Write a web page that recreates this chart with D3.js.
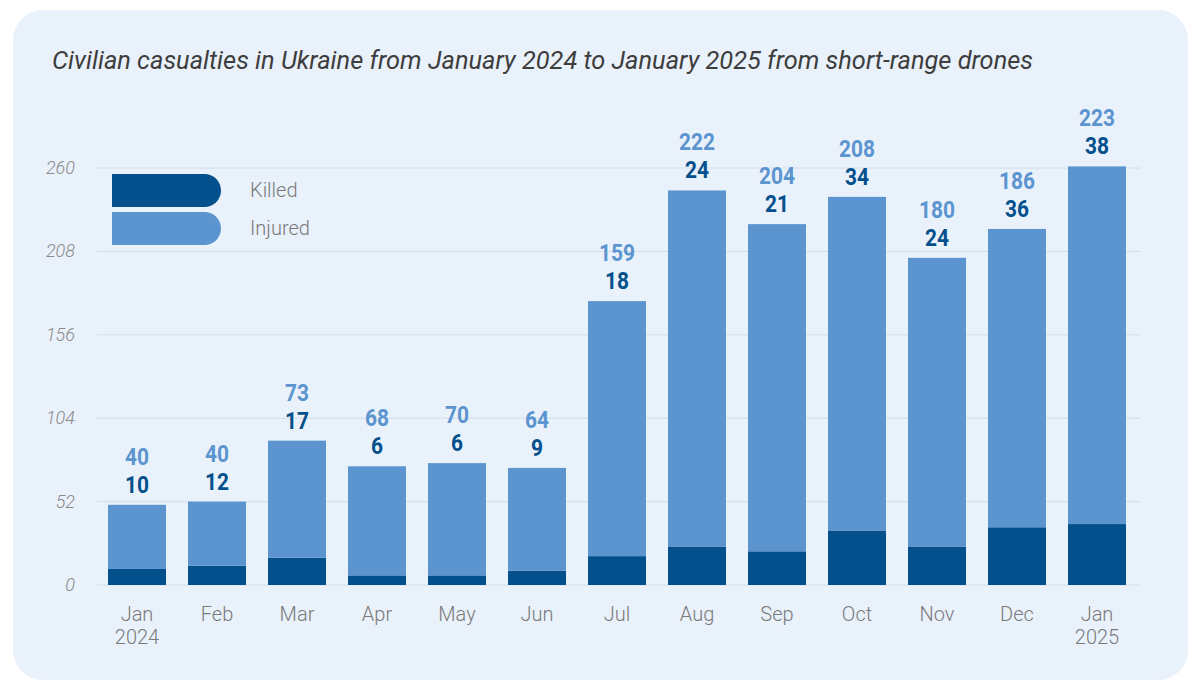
<html><head>
<meta charset="UTF-8">
<title>Civilian casualties from short-range drones</title>
<style>
  body { margin: 0; padding: 0; background: #ffffff; overflow: hidden; }
  svg { display: block; }
  .title { font-family: Roboto, sans-serif; font-style: italic; }
  .tick-y { font-family: Roboto, sans-serif; font-style: italic; font-weight: 300; }
  .lbl { font-family: Roboto, sans-serif; font-weight: 700; }
  .month { font-family: Roboto, sans-serif; font-weight: 300; }
</style>
</head>
<body>
<div id="chart"></div>
<script src="https://d3js.org/d3.v7.min.js"></script>
<script>
  // data
  const months = ["Jan|2024", "Feb", "Mar", "Apr", "May", "Jun", "Jul", "Aug", "Sep", "Oct", "Nov", "Dec", "Jan|2025"];
  const killed = [10, 12, 17, 6, 6, 9, 18, 24, 21, 34, 24, 36, 38];
  const injured = [40, 40, 73, 68, 70, 64, 159, 222, 204, 208, 180, 186, 223];
  const yTicks = [0, 52, 104, 156, 208, 260];
  const seriesNames = ["Killed", "Injured"];

  const width = 1200, height = 692;
  const killedColor = "#03508c";
  const injuredColor = "#5b94cf";

  const svg = d3.select("#chart").append("svg")
    .attr("width", width)
    .attr("height", height);

  // panel background
  svg.append("rect")
    .attr("x", 13).attr("y", 10)
    .attr("width", 1175).attr("height", 670)
    .attr("rx", 30)
    .attr("fill", "#e9f1fb");

  svg.append("text")
    .attr("class", "title")
    .attr("x", 52).attr("y", 69)
    .attr("font-size", 25)
    .attr("fill", "#3d3d3d")
    .attr("textLength", 981)
    .attr("lengthAdjust", "spacingAndGlyphs")
    .text("Civilian casualties in Ukraine from January 2024 to January 2025 from short-range drones");

  const x = d3.scaleBand()
    .domain(months)
    .range([97, 1137])
    .paddingInner(0.275)
    .paddingOuter(0.1375);

  const y = d3.scaleLinear()
    .domain([0, 260])
    .range([585, 168]);

  // grid
  svg.append("g").selectAll("line")
    .data(yTicks)
    .join("line")
    .attr("x1", 97).attr("x2", 1140)
    .attr("y1", d => y(d)).attr("y2", d => y(d))
    .attr("stroke", "#d3dde8")
    .attr("stroke-width", 1);

  svg.append("g").selectAll("text")
    .data(yTicks)
    .join("text")
    .attr("class", "tick-y")
    .attr("x", 75)
    .attr("y", d => y(d) + 6)
    .attr("text-anchor", "end")
    .attr("font-size", 18)
    .attr("fill", "#8a8a8a")
    .text(d => d);

  const rows = months.map((m, i) => ({ m, k: killed[i], inj: injured[i] }));

  // stacked bars
  const stack = d3.stack().keys(["k", "inj"])(rows);
  const colors = [killedColor, injuredColor];
  svg.append("g").selectAll("g")
    .data(stack)
    .join("g")
    .attr("fill", (d, i) => colors[i])
    .selectAll("rect")
    .data(d => d)
    .join("rect")
    .attr("x", d => x(d.data.m))
    .attr("width", x.bandwidth())
    .attr("y", d => y(d[1]))
    .attr("height", d => y(d[0]) - y(d[1]));

  // value labels (squeezed a bit to look like a condensed face)
  function addLabels(key, offset, color) {
    svg.append("g").selectAll("text")
      .data(rows)
      .join("text")
      .attr("class", "lbl")
      .attr("x", d => x(d.m) + x.bandwidth() / 2)
      .attr("y", d => y(d.k + d.inj) - offset)
      .attr("text-anchor", "middle")
      .attr("font-size", 24)
      .attr("fill", color)
      .attr("textLength", d => String(d[key]).length * 12)
      .attr("lengthAdjust", "spacingAndGlyphs")
      .text(d => d[key]);
  }
  addLabels("k", 12, killedColor);
  addLabels("inj", 40, injuredColor);

  // month labels
  const mg = svg.append("g").selectAll("text")
    .data(months)
    .join("text")
    .attr("class", "month")
    .attr("x", d => x(d) + x.bandwidth() / 2)
    .attr("y", 621)
    .attr("text-anchor", "middle")
    .attr("font-size", 20)
    .attr("fill", "#7a7a7a");
  mg.each(function(d) {
    const parts = d.split("|");
    const t = d3.select(this);
    parts.forEach((p, j) => {
      t.append("tspan")
        .attr("x", x(d) + x.bandwidth() / 2)
        .attr("dy", j === 0 ? 0 : 23)
        .text(p);
    });
  });

  // legend: square left end, round right end
  function legendShape(x0, y0, w, h) {
    const r = h / 2;
    return `M${x0},${y0} H${x0 + w - r} A${r},${r} 0 0 1 ${x0 + w - r},${y0 + h} H${x0} Z`;
  }
  const legend = svg.append("g");
  seriesNames.forEach((name, i) => {
    const ly = 174 + i * 38;
    legend.append("path")
      .attr("d", legendShape(112, ly, 109, 33))
      .attr("fill", colors[i]);
    legend.append("text")
      .attr("class", "month")
      .attr("x", 250)
      .attr("y", ly + 23)
      .attr("font-size", 20)
      .attr("fill", "#7a7a7a")
      .text(name);
  });
</script>
</body></html>
